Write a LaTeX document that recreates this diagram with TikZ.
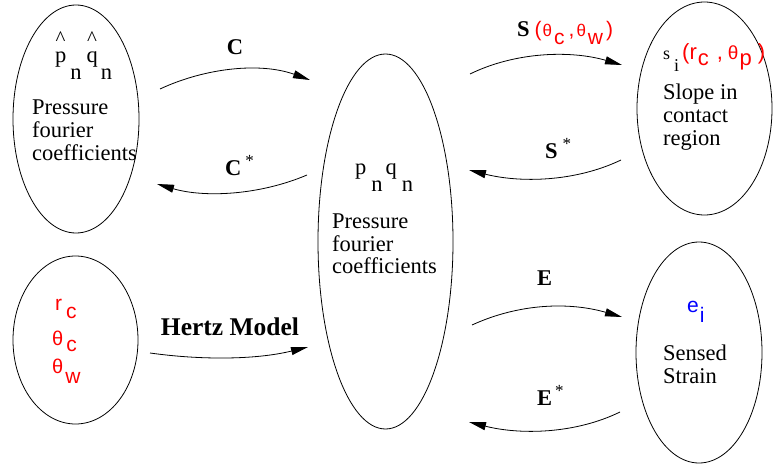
\documentclass[tikz,border=0pt]{standalone}
\usepackage{fontspec}
\setmainfont{Liberation Serif}
\setsansfont{Liberation Sans}
\usetikzlibrary{shapes.geometric,arrows.meta}
\newcommand\dropby[2]{\raisebox{-#1}{#2}}
\newcommand\hatover[1]{\makebox[0pt][l]{\raisebox{0.78em}{\hspace{0.02em}\fontsize{21}{21}\selectfont\textasciicircum}}#1}
\begin{document}
\begin{tikzpicture}[x=1pt,y=-1pt,
  bub/.style={draw, ellipse, inner sep=0pt, line width=0.8pt},
  txt/.style={anchor=base west, inner sep=0pt, font=\fontsize{22.5}{23}\selectfont},
  lbl/.style={anchor=base, inner sep=0pt, font=\fontsize{22.5}{23}\selectfont\bfseries},
  lblw/.style={anchor=base west, inner sep=0pt, font=\fontsize{22.5}{23}\selectfont\bfseries},
  redtxt/.style={anchor=base west, inner sep=0pt, text=red, font=\sffamily\fontsize{21}{21}\selectfont},
  arr/.style={-{Triangle[length=17pt,width=8pt]}, line width=0.8pt}]
\useasboundingbox (0,0) rectangle (773,468);

% ellipses
\node[bub, minimum width=126pt, minimum height=228pt] (tl) at (76,119) {};
\node[bub, minimum width=125pt, minimum height=168pt] (bl) at (75.5,340) {};
\node[bub, minimum width=135pt, minimum height=375pt] (mid) at (385.5,241.5) {};
\node[bub, minimum width=135pt, minimum height=213pt] (tr) at (704.5,108.5) {};
\node[bub, minimum width=126pt, minimum height=221pt] (br) at (699,352.5) {};

% top-left text
\node[txt] (tlm) at (55,63) {\hatover{p}\hspace{4pt}\dropby{17pt}{n}\hspace{5pt}\hatover{q}\hspace{3pt}\dropby{17pt}{n}};
\node[txt] (tl1) at (32,115) {Pressure};
\node[txt] (tl2) at (32,138) {fourier};
\node[txt] (tl3) at (32,160) {coefficients};

% bottom-left red text
\node[redtxt] (bl1) at (55,310) {r\hspace{4pt}\dropby{8pt}{c}};
\node[redtxt] (bl2) at (52,345) {{\fontsize{20}{20}\selectfont θ}\hspace{3pt}\dropby{6pt}{c}};
\node[redtxt] (bl3) at (52,373) {{\fontsize{20}{20}\selectfont θ}\hspace{2pt}\dropby{10pt}{w}};

% middle text
\node[txt] (mm) at (355,174) {p\hspace{5pt}\dropby{17pt}{n}\hspace{3pt}q\hspace{5pt}\dropby{17pt}{n}};
\node[txt] (m1) at (332,228) {Pressure};
\node[txt] (m2) at (332,251) {fourier};
\node[txt] (m3) at (332,273) {coefficients};

% top-right text
\node[anchor=base west, inner sep=0pt] (trm) at (663,60) {{\fontsize{18}{18}\selectfont s\hspace{4pt}\dropby{12pt}{i}}\hspace{3pt}{\sffamily\color{red}\fontsize{22}{22}\selectfont (r\hspace{1pt}\dropby{6pt}{c}\hspace{8pt},\hspace{5pt}{\fontsize{19}{19}\selectfont θ}\hspace{1pt}\dropby{6pt}{p}\hspace{6pt})}};
\node[txt] (tr1) at (663,100) {Slope in};
\node[txt] (tr2) at (663,123) {contact};
\node[txt] (tr3) at (663,146) {region};

% bottom-right text
\node[anchor=base west, inner sep=0pt, text=blue, font=\sffamily\fontsize{21}{21}\selectfont] (brm) at (687,312) {e\hspace{1pt}\dropby{10pt}{i}};
\node[txt] (br1) at (663,360) {Sensed};
\node[txt] (br2) at (663,383) {Strain};

% arrow end points
\coordinate (c0) at (160,89);  \coordinate (c1) at (310,80);
\coordinate (cs0) at (307,175); \coordinate (cs1) at (157,184);
\coordinate (h0) at (150,353); \coordinate (h1) at (308,347);
\coordinate (s0) at (470,74);  \coordinate (s1) at (622,65);
\coordinate (ss0) at (621,160); \coordinate (ss1) at (469,170);
\coordinate (e0) at (472,325); \coordinate (e1) at (622,317);
\coordinate (es0) at (620,412); \coordinate (es1) at (469,422);

\draw[arr] (c0) .. controls (205,68) and (260,62) .. (c1);
\draw[arr] (cs0) .. controls (260,195) and (205,198) .. (cs1);
\draw[arr] (h0) .. controls (200,360) and (255,360) .. (h1);
\draw[arr] (s0) .. controls (515,52) and (570,50) .. (s1);
\draw[arr] (ss0) .. controls (575,182) and (520,183) .. (ss1);
\draw[arr] (e0) .. controls (520,303) and (570,302) .. (e1);
\draw[arr] (es0) .. controls (575,434) and (520,435) .. (es1);

% labels
\node[lbl] (lc) at (235,55) {C};
\node[lblw] (lcs) at (225,175) {C\hspace{4pt}\raisebox{0.38em}{\mdseries\fontsize{17}{17}\selectfont *}};
\node[lbl, font=\fontsize{25.5}{26}\selectfont\bfseries] (lh) at (230,335) {Hertz Model};
\node[lblw] (ls) at (517,37) {S\hspace{5pt}{\mdseries\sffamily\color{red}\fontsize{21}{21}\selectfont (\hspace{1pt}{\fontsize{17}{17}\selectfont θ}\hspace{2pt}\dropby{8pt}{c}\hspace{4pt},\hspace{2pt}{\fontsize{17}{17}\selectfont θ}\hspace{2pt}\dropby{8pt}{w}\hspace{3pt})}};
\node[lblw] (lss) at (545,158) {S\hspace{5pt}\raisebox{0.38em}{\mdseries\fontsize{17}{17}\selectfont *}};
\node[lbl] (le) at (544.5,285) {E};
\node[lblw] (les) at (537,405) {E\hspace{3pt}\raisebox{0.38em}{\mdseries\fontsize{17}{17}\selectfont *}};
\end{tikzpicture}
\end{document}
